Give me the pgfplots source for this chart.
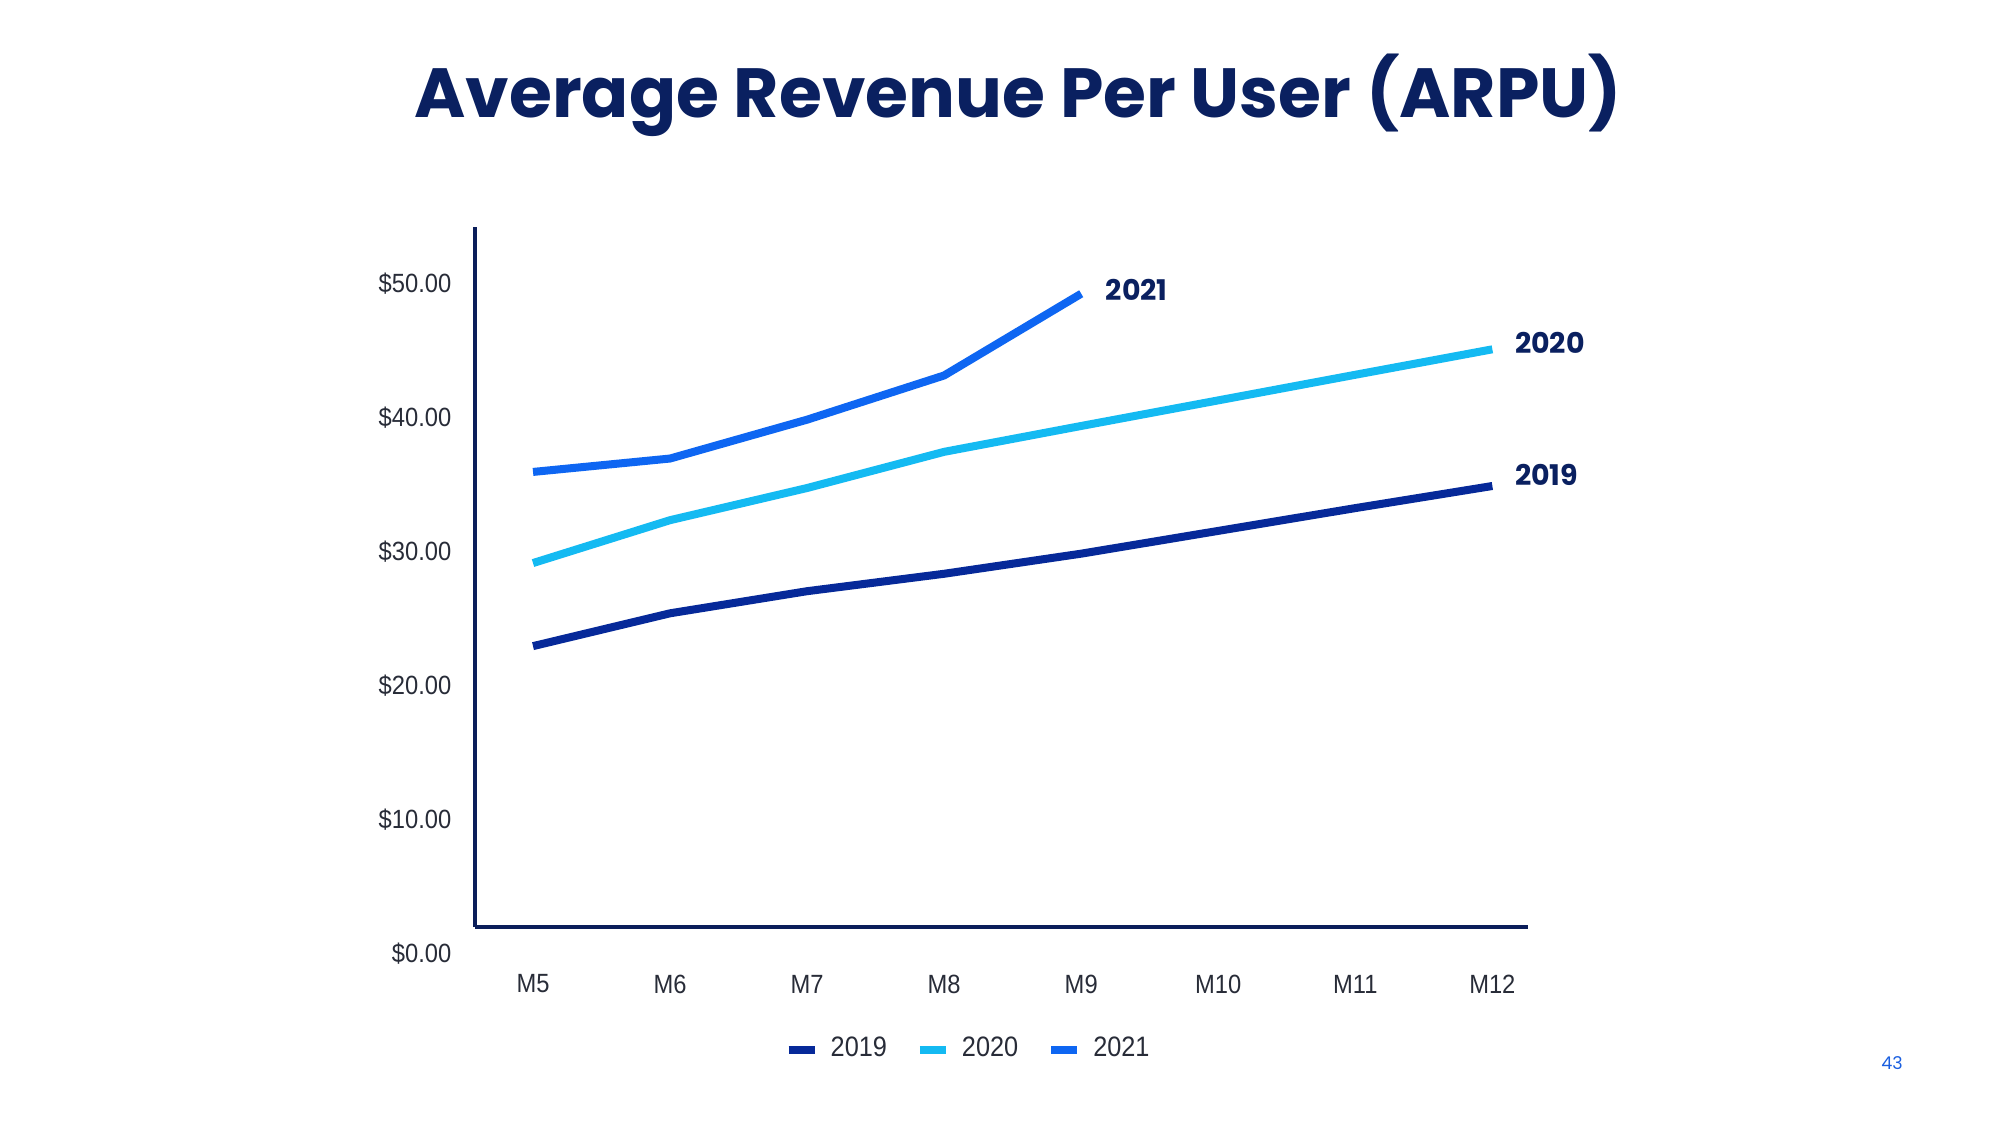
\documentclass[border=0pt]{standalone}
\usepackage{fontspec}
\usepackage{pgfplots}
\pgfplotsset{compat=1.18}
\newfontfamily\pop{Poppins}
\newfontfamily\tickfont[FakeStretch=0.9]{Liberation Sans}
\definecolor{c2019}{RGB}{6,41,153}
\definecolor{c2020}{RGB}{20,186,242}
\definecolor{c2021}{RGB}{14,102,242}
\definecolor{axisnavy}{RGB}{11,30,90}
\definecolor{titlenavy}{RGB}{10,32,96}
\definecolor{ticktext}{RGB}{40,44,56}
\definecolor{pageblue}{RGB}{26,95,224}
\begin{document}
\begin{tikzpicture}
\path[use as bounding box, fill=white] (0,0) rectangle (200mm,112.5mm);
\node[font=\pop\bfseries\fontsize{19.8}{24}\selectfont, text=titlenavy] at (101.8mm,103.0mm) {Average Revenue Per User (ARPU)};
\node[font=\pop\fontsize{5}{6}\selectfont, text=pageblue] at (189.2mm,6.2mm) {43};
\begin{axis}[
  at={(47.45mm,19.8mm)}, anchor=south west,
  scale only axis, width=105.35mm, height=70mm,
  xmin=-0.427, xmax=7.26, ymin=1.94, ymax=54.18,
  axis x line*=bottom, axis y line*=left,
  axis line style={-, line width=0.4mm, draw=axisnavy},
  major tick length=0pt, tick style={draw=none},
  xtick={0,1,2,3,4,5,6,7},
  xticklabels={M5,M6,M7,M8,M9,M10,M11,M12},
  ytick={10,20,30,40,50},
  yticklabels={\$10.00,\$20.00,\$30.00,\$40.00,\$50.00},
  ticklabel style={font=\tickfont\fontsize{7.5}{9}\selectfont, text=ticktext, inner sep=0pt},
  yticklabel style={anchor=east, xshift=-2.25mm, text height=1.89mm, text depth=0pt},
  xticklabel style={anchor=center, yshift=-5.7mm},
  clip=false,
  legend columns=3,
  legend style={at={(0.4714,-0.175)}, anchor=center, draw=none, fill=none,
    font=\tickfont\fontsize{8}{9.5}\selectfont, text=ticktext,
    nodes={inner sep=0.8mm},
    /tikz/every odd column/.append style={column sep=0.4mm},
    /tikz/every even column/.append style={column sep=2.1mm}},
  legend cell align=left,
  legend image code/.code={\draw[#1, line width=0.8mm] (0mm,0mm) -- (2.6mm,0mm);},
]
\addplot[c2019, line width=0.8mm] coordinates {(0,22.9) (1,25.35) (2,27.0) (3,28.3) (4,29.8) (5,31.5) (6,33.2) (7,34.85)};
\addlegendentry{2019}
\addplot[c2020, line width=0.8mm] coordinates {(0,29.1) (1,32.3) (2,34.7) (3,37.4) (4,39.33) (5,41.24) (6,43.15) (7,45.05)};
\addlegendentry{2020}
\addplot[c2021, line width=0.8mm] coordinates {(0,35.9) (1,36.9) (2,39.8) (3,43.1) (4,49.2)};
\addlegendentry{2021}
\node[font=\tickfont\fontsize{7.5}{9}\selectfont, text=ticktext, anchor=east, inner sep=0pt, text height=1.89mm, text depth=0pt, xshift=-2.25mm] at (axis cs:-0.427,0) {\$0.00};
\node[font=\pop\bfseries\fontsize{8.1}{10}\selectfont, text=titlenavy, anchor=west, inner sep=0pt, xshift=2.4mm, yshift=0.4mm] at (axis cs:4,49.2) {2021};
\node[font=\pop\bfseries\fontsize{8.1}{10}\selectfont, text=titlenavy, anchor=west, inner sep=0pt, xshift=2.2mm, yshift=0.6mm] at (axis cs:7,45.05) {2020};
\node[font=\pop\bfseries\fontsize{8.1}{10}\selectfont, text=titlenavy, anchor=west, inner sep=0pt, xshift=2.2mm, yshift=1.1mm] at (axis cs:7,34.85) {2019};
\end{axis}
\end{tikzpicture}
\end{document}
